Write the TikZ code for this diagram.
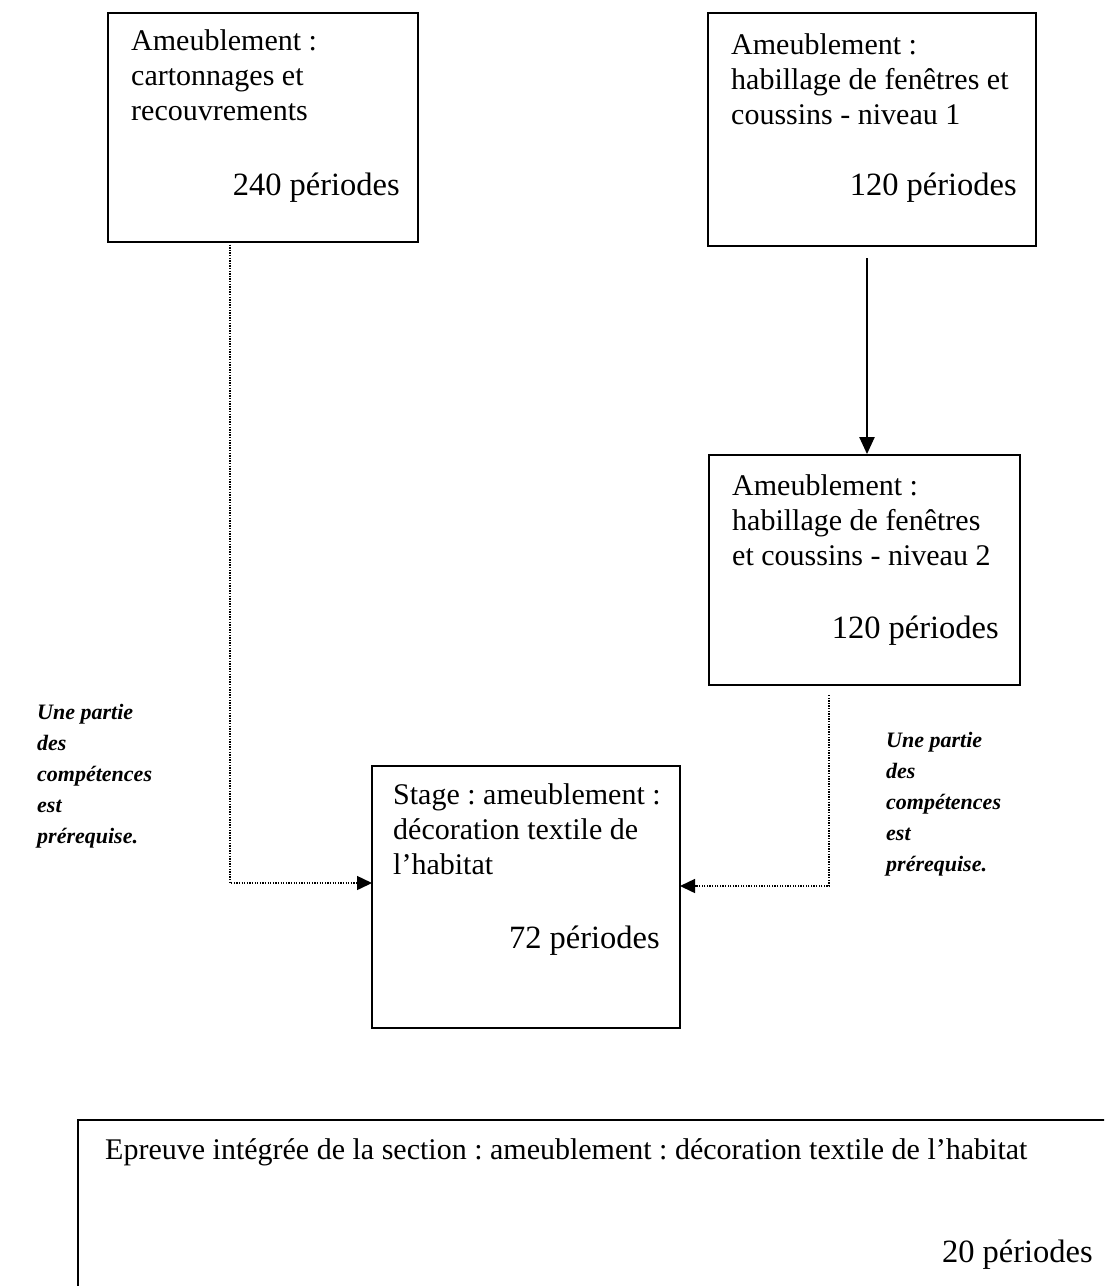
\documentclass[tikz,border=0pt]{standalone}
\usepackage{fontspec}
\setmainfont{Liberation Serif}
\usetikzlibrary{arrows.meta}
\frenchspacing
\tikzset{
  box/.style={draw, line width=1.8pt, inner sep=0pt},
  txt/.style={inner sep=0pt, align=left, font=\fontsize{30}{35}\selectfont\frenchspacing},
  per/.style={inner sep=0pt, anchor=base east, font=\fontsize{32.5}{35}\selectfont},
  note/.style={inner sep=0pt, align=left, anchor=north west, font=\fontsize{22}{31}\selectfont\bfseries\itshape},
  dotline/.style={line width=1.5pt, dash pattern=on 1.3pt off 1.3pt, -{Triangle[length=15pt,width=14pt]}},
  solidarrow/.style={line width=2.2pt, -{Triangle[length=17pt,width=15pt]}}
}
\begin{document}
\begin{tikzpicture}[x=1pt,y=-1pt]
\useasboundingbox (0,0) rectangle (1104,1286);
\clip (0,0) rectangle (1104,1286);
\fill[white] (0,0) rectangle (1104,1286);
% boxes
\node[box, minimum width=310pt, minimum height=229pt] (boxA) at (263,127.5) {};
\node[box, minimum width=328pt, minimum height=233pt] (boxB) at (872,129.5) {};
\node[box, minimum width=311pt, minimum height=230pt] (boxC) at (864.5,570) {};
\node[box, minimum width=308pt, minimum height=262pt] (boxD) at (526,897) {};
\node[box, minimum width=1060pt, minimum height=200pt] (boxE) at (608,1220) {};
% texts
\node[txt, anchor=north west] (tA) at (131,29.5) {Ameublement :\\cartonnages et\\recouvrements};
\node[per] (pA) at (400,195) {240 périodes};
\node[txt, anchor=north west] (tB) at (731,33.5) {Ameublement :\\habillage de fenêtres et\\coussins - niveau 1};
\node[per] (pB) at (1017,195) {120 périodes};
\node[txt, anchor=north west] (tC) at (732,474.5) {Ameublement :\\habillage de fenêtres\\et coussins - niveau 2};
\node[per] (pC) at (999,638) {120 périodes};
\node[txt, anchor=north west] (tD) at (393,783.5) {Stage : ameublement :\\décoration textile de\\l’habitat};
\node[per] (pD) at (660,948) {72 périodes};
\node[txt, anchor=north west] (tE) at (105,1138.5) {Epreuve intégrée de la section : ameublement : décoration textile de l’habitat};
\node[per] (pE) at (1093,1262) {20 périodes};
% notes
\node[note] (nL) at (37,704) {Une partie\\des\\compétences\\est\\prérequise.};
\node[note] (nR) at (886,732) {Une partie\\des\\compétences\\est\\prérequise.};
% connectors
\coordinate (a1) at (230,242);
\coordinate (d1) at (372,883);
\draw[dotline] (a1) |- (d1);
\coordinate (b1) at (867,258);
\draw[solidarrow] (b1) -- (b1 |- boxC.north);
\coordinate (c1) at (829,695);
\coordinate (d2) at (680,886);
\draw[dotline] (c1) |- (d2);
\end{tikzpicture}
\end{document}
